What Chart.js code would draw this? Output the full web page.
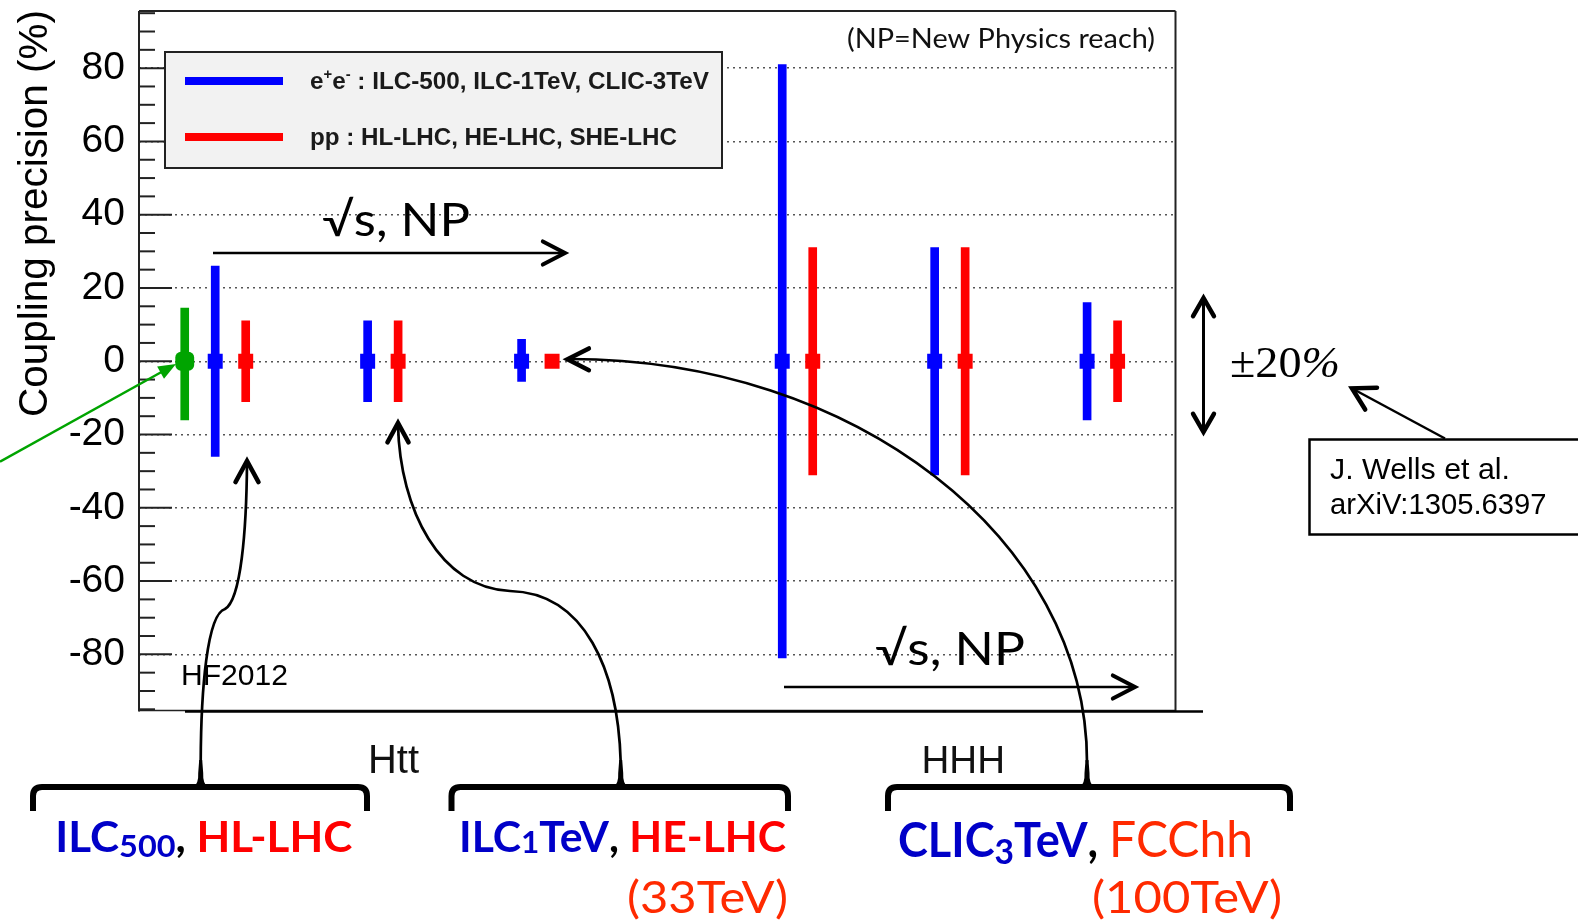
<!DOCTYPE html>
<html>
<head>
<meta charset="utf-8">
<script src="https://cdn.jsdelivr.net/npm/chart.js@4.4.1/dist/chart.umd.min.js"></script>
<style>
    html, body { margin: 0; padding: 0; background: #fff; }
    #wrap { width: 1578px; height: 923px; }
</style>
</head>
<body>
<div id="wrap"><canvas id="chart" width="1578" height="923"></canvas></div>
<script>
// y axis
const yTicks = [-80, -60, -40, -20, 0, 20, 40, 60, 80];
const yMin = -95.6, yMax = 95.6;

// HF2012 point (green)
const greenX = [1.5];
const greenUp = [14.5];
const greenDown = [16];

// e+e- : ILC-500, ILC-1TeV, CLIC-3TeV (Htt then HHH)
const blueX = [2.5, 7.5, 12.55, 21.1, 26.1, 31.1];
const blueUp = [26, 11, 6, 81, 31, 16];
const blueDown = [26, 11, 5.5, 81, 31, 16];

// pp : HL-LHC, HE-LHC, SHE-LHC
const redX = [3.5, 8.5, 13.55, 22.1, 27.1, 32.1];
const redUp = [11, 11, 0, 31, 31, 11];
const redDown = [11, 11, 0, 31, 31, 11];

const centralValue = 0;
const legendLabels = [' : ILC-500, ILC-1TeV, CLIC-3TeV', 'pp : HL-LHC, HE-LHC, SHE-LHC'];
const groupLabels = ['Htt', 'HHH'];

const BLUE = '#0000ff', RED = '#ff0000', GREEN = '#00a400';
const TXT_BLUE = '#0000c8', TXT_RED = '#ff0000', TXT_ORANGE = '#ff2a00';

function errBars(xs, up, down) {
    return xs.map((x, i) => ({ x: x, y: [centralValue - down[i], centralValue + up[i]] }));
}
function centres(xs) {
    return xs.map(x => ({ x: x, y: centralValue }));
}

// draw text stretched to a given width; parts = [text, font, color, dy]
function fitText(ctx, parts, x, y, width) {
    let total = 0;
    parts.forEach(p => { ctx.font = p[1]; total += ctx.measureText(p[0]).width; });
    const sx = width / total;
    ctx.save();
    ctx.translate(x, y);
    ctx.scale(sx, 1);
    ctx.textAlign = 'left';
    ctx.textBaseline = 'alphabetic';
    let cx = 0;
    parts.forEach(p => {
        ctx.font = p[1];
        ctx.fillStyle = p[2];
        ctx.fillText(p[0], cx, p[3] || 0);
        cx += ctx.measureText(p[0]).width;
    });
    ctx.restore();
}

function line(ctx, x1, y1, x2, y2, w, c) {
    ctx.beginPath();
    ctx.moveTo(x1, y1);
    ctx.lineTo(x2, y2);
    ctx.lineWidth = w;
    ctx.strokeStyle = c || '#000';
    ctx.stroke();
}

// open chevron head; ang = direction the arrow points
function openHead(ctx, tx, ty, ang, len, spread, w) {
    const back = ang + Math.PI;
    ctx.beginPath();
    ctx.moveTo(tx + len * Math.cos(back - spread), ty + len * Math.sin(back - spread));
    ctx.lineTo(tx, ty);
    ctx.lineTo(tx + len * Math.cos(back + spread), ty + len * Math.sin(back + spread));
    ctx.lineWidth = w;
    ctx.lineCap = 'round';
    ctx.lineJoin = 'miter';
    ctx.strokeStyle = '#000';
    ctx.stroke();
}

function brace(ctx, x1, x2, xc) {
    const y = 787, yEnd = 811;
    ctx.beginPath();
    ctx.moveTo(x1, yEnd);
    ctx.lineTo(x1, y + 9);
    ctx.quadraticCurveTo(x1, y, x1 + 9, y);
    ctx.lineTo(x2 - 9, y);
    ctx.quadraticCurveTo(x2, y, x2, y + 9);
    ctx.lineTo(x2, yEnd);
    ctx.lineWidth = 6;
    ctx.lineCap = 'butt';
    ctx.lineJoin = 'round';
    ctx.strokeStyle = '#000';
    ctx.stroke();
    ctx.beginPath();
    ctx.moveTo(xc - 7, y);
    ctx.quadraticCurveTo(xc - 2, y - 4, xc - 2.5, y - 14);
    ctx.lineTo(xc - 1.5, y - 27);
    ctx.lineTo(xc + 1.5, y - 27);
    ctx.lineTo(xc + 2.5, y - 14);
    ctx.quadraticCurveTo(xc + 2, y - 4, xc + 7, y);
    ctx.closePath();
    ctx.fillStyle = '#000';
    ctx.fill();
}

const overlay = {
    id: 'overlay',
    afterDraw(chart) {
        const ctx = chart.ctx;
        const a = chart.chartArea;
        const ys = chart.scales.y;
        ctx.save();

        // frame
        line(ctx, a.left, a.top, a.right, a.top, 2, '#222');
        line(ctx, a.left, a.top, a.left, a.bottom, 2, '#222');
        line(ctx, a.right, a.top, a.right, a.bottom, 2, '#222');
        line(ctx, a.left, a.bottom - 1, a.right, a.bottom - 1, 1.5, '#222');
        line(ctx, 185, a.bottom, 1203, a.bottom, 2.5, '#000');

        // inward ticks
        for (let v = -95; v <= 95; v += 5) {
            const py = ys.getPixelForValue(v);
            line(ctx, a.left, py, a.left + (v % 20 === 0 ? 33 : 16), py, 2, '#222');
        }

        // y title (rotated, aligned to top)
        ctx.save();
        ctx.translate(47, 417);
        ctx.rotate(-Math.PI / 2);
        fitText(ctx, [['Coupling precision (%)', '40px "Liberation Sans"', '#000']], 0, 0, 407);
        ctx.restore();

        // legend
        ctx.fillStyle = '#f2f2f2';
        ctx.fillRect(165, 52, 557, 116);
        ctx.lineWidth = 2;
        ctx.strokeStyle = '#222';
        ctx.strokeRect(165, 52, 557, 116);
        ctx.lineCap = 'butt';
        line(ctx, 185, 81, 283, 81, 8, BLUE);
        line(ctx, 185, 137, 283, 137, 8, RED);
        const lb = 'bold 23px "Liberation Sans"', ls = 'bold 14px "Liberation Sans"';
        fitText(ctx, [['e', lb, '#1a1a1a'], ['+', ls, '#1a1a1a', -10], ['e', lb, '#1a1a1a'], ['-', ls, '#1a1a1a', -10],
            [legendLabels[0], lb, '#1a1a1a']], 310, 89, 399);
        fitText(ctx, [[legendLabels[1], lb, '#1a1a1a']], 310, 145, 367);

        // top-right note
        fitText(ctx, [['(NP=New Physics reach)', '26px Lato', '#111']], 847, 48, 308);

        // sqrt(s), NP arrows
        fitText(ctx, [['\u221As, NP', '46px Lato', '#000']], 322, 236, 148);
        ctx.lineCap = 'butt';
        line(ctx, 213, 253, 563, 253, 2.5);
        openHead(ctx, 565, 253, 0, 25, 0.48, 4);
        fitText(ctx, [['\u221As, NP', '46px Lato', '#000']], 875, 665, 150);
        ctx.lineCap = 'butt';
        line(ctx, 784, 687, 1133, 687, 2.5);
        openHead(ctx, 1135, 687, 0, 25, 0.48, 4);

        // HF2012 label and green arrow
        fitText(ctx, [['HF2012', '30px "Liberation Sans"', '#000']], 181, 685, 107);
        ctx.lineCap = 'butt';
        line(ctx, 0, 461.7, 166, 369.5, 2.5, GREEN);
        ctx.beginPath();
        const gAng = Math.atan2(461.7 - 364, -176);
        ctx.moveTo(176, 364);
        ctx.lineTo(176 + 19 * Math.cos(gAng - 0.38), 364 + 19 * Math.sin(gAng - 0.38));
        ctx.lineTo(176 + 19 * Math.cos(gAng + 0.38), 364 + 19 * Math.sin(gAng + 0.38));
        ctx.closePath();
        ctx.fillStyle = GREEN;
        ctx.fill();

        // group names
        fitText(ctx, [[groupLabels[0], '40px "Liberation Sans"', '#111']], 368, 772.5, 51);
        fitText(ctx, [[groupLabels[1], '39px "Liberation Sans"', '#111']], 921.5, 772.5, 83.5);

        // braces
        brace(ctx, 33, 367, 200.7);
        brace(ctx, 451.5, 788, 620.7);
        brace(ctx, 888, 1290, 1087);

        // curved arrows
        ctx.lineWidth = 2.7;
        ctx.strokeStyle = '#000';
        ctx.lineCap = 'butt';
        ctx.beginPath();
        ctx.moveTo(200.7, 762);
        ctx.bezierCurveTo(201, 690, 207, 614, 225, 609);
        ctx.bezierCurveTo(241, 600, 246.5, 530, 247, 463);
        ctx.stroke();
        openHead(ctx, 247, 461, -Math.PI / 2, 24, 0.5, 4.5);

        ctx.lineWidth = 2.7;
        ctx.beginPath();
        ctx.moveTo(620.7, 762);
        ctx.bezierCurveTo(618, 670, 585, 593, 510, 591);
        ctx.bezierCurveTo(440, 588, 400, 510, 398, 425);
        ctx.stroke();
        openHead(ctx, 398, 423, -Math.PI / 2, 22, 0.5, 4.5);

        ctx.lineWidth = 2.7;
        ctx.beginPath();
        ctx.moveTo(1087, 762);
        ctx.bezierCurveTo(1087, 538, 854, 359, 570, 359);
        ctx.stroke();
        openHead(ctx, 567.5, 359.3, Math.PI, 24, 0.47, 4.5);

        // +-20% double arrow
        ctx.lineCap = 'butt';
        line(ctx, 1203.5, 300, 1203.5, 430, 3);
        openHead(ctx, 1203.5, 298, -Math.PI / 2, 21, 0.52, 4.5);
        openHead(ctx, 1203.5, 432, Math.PI / 2, 21, 0.52, 4.5);
        fitText(ctx, [['\u00B120', '45px "Liberation Serif"', '#000'], ['%', 'italic 45px "Liberation Serif"', '#000']], 1230, 377, 110);

        // reference box
        ctx.fillStyle = '#fff';
        ctx.fillRect(1309.5, 439.5, 280, 95);
        ctx.lineWidth = 2.5;
        ctx.strokeStyle = '#000';
        ctx.strokeRect(1309.5, 439.5, 280, 95);
        fitText(ctx, [['J. Wells et al.', '29px "Liberation Sans"', '#000']], 1330, 479, 180);
        fitText(ctx, [['arXiV:1305.6397', '29px "Liberation Sans"', '#000']], 1330, 514, 216.5);
        ctx.lineCap = 'butt';
        line(ctx, 1445, 438.5, 1354, 389.5, 2.5);
        openHead(ctx, 1352, 388.3, Math.atan2(388.3 - 438.5, 1352 - 1445), 25, 0.52, 4.5);

        // collider labels
        const bB = 'bold 42px Lato', bS = 'bold 31px Lato';
        fitText(ctx, [['ILC', bB, TXT_BLUE], ['500', bS, TXT_BLUE, 5], [', ', bB, '#000'], ['HL-LHC', bB, TXT_RED]], 55.3, 851.5, 297);
        fitText(ctx, [['ILC', bB, TXT_BLUE], ['1', bS, TXT_BLUE, 1], ['TeV', bB, TXT_BLUE], [', ', bB, '#000'], ['HE-LHC', bB, TXT_RED]], 459, 851.5, 327);
        fitText(ctx, [['(33TeV)', '44px Lato', TXT_ORANGE]], 627, 913, 161);
        const cB = 'bold 47px Lato', cS = 'bold 35px Lato';
        fitText(ctx, [['CLIC', cB, TXT_BLUE], ['3', cS, TXT_BLUE, 7], ['TeV', cB, TXT_BLUE], [', ', cB, '#000'], ['FCChh', '50px Lato', TXT_ORANGE]], 898, 856.5, 355);
        fitText(ctx, [['(100TeV)', '44px Lato', TXT_ORANGE]], 1092, 913, 190);

        ctx.restore();
    }
};

new Chart(document.getElementById('chart'), {
    type: 'bar',
    data: {
        datasets: [
            { label: 'HF2012', data: errBars(greenX, greenUp, greenDown), backgroundColor: GREEN, barThickness: 8, grouped: false, order: 2 },
            { label: 'e+e-', data: errBars(blueX, blueUp, blueDown), backgroundColor: BLUE, barThickness: 8, grouped: false, order: 2 },
            { label: 'pp', data: errBars(redX, redUp, redDown), backgroundColor: RED, barThickness: 8, grouped: false, order: 2 },
            { type: 'scatter', data: centres(greenX), pointStyle: 'rectRounded', pointRadius: 11, backgroundColor: GREEN, borderWidth: 0, order: 1 },
            { type: 'scatter', data: centres(blueX), pointStyle: 'rect', pointRadius: 10.6, backgroundColor: BLUE, borderWidth: 0, order: 1 },
            { type: 'scatter', data: centres(redX), pointStyle: 'rect', pointRadius: 10.6, backgroundColor: RED, borderWidth: 0, order: 1 }
        ]
    },
    options: {
        responsive: false,
        devicePixelRatio: 1,
        animation: false,
        events: [],
        layout: { padding: { left: 0, top: 9.5, right: 402.5, bottom: 211.5 } },
        plugins: { legend: { display: false }, tooltip: { enabled: false } },
        scales: {
            x: { type: 'linear', min: 0, max: 34, offset: false, display: false },
            y: {
                min: yMin,
                max: yMax,
                afterBuildTicks: s => { s.ticks = yTicks.map(v => ({ value: v })); },
                afterFit: s => { s.width = 139; s.paddingTop = 0; s.paddingBottom = 0; },
                ticks: { font: { family: 'Liberation Sans', size: 39 }, color: '#000', padding: 14 },
                grid: { color: '#555', lineWidth: 1.5, drawTicks: false },
                border: { display: false, dash: [2, 4] }
            }
        }
    },
    plugins: [overlay]
});
</script>
</body>
</html>
